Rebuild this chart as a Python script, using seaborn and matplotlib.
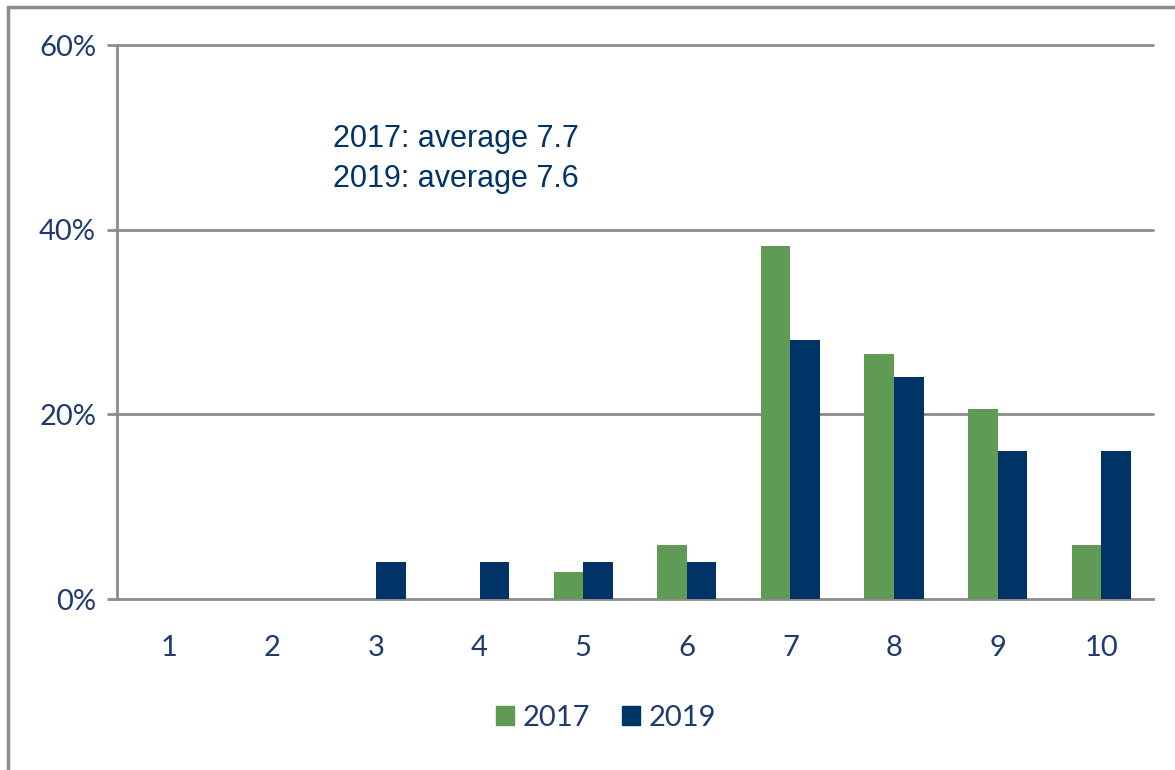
import matplotlib
matplotlib.use("Agg")
import matplotlib.pyplot as plt
import matplotlib.patches as mpatches
from matplotlib.lines import Line2D
import numpy as np
import pandas as pd
import seaborn as sns

# Ratings 1-10, share of respondents per year
scores = ["1", "2", "3", "4", "5", "6", "7", "8", "9", "10"]
share_2017 = [0, 0, 0, 0, 2.9, 5.9, 38.2, 26.5, 20.6, 5.9]
share_2019 = [0, 0, 4.0, 4.0, 4.0, 4.0, 28.0, 24.0, 16.0, 16.0]
years = ["2017", "2019"]
y_ticks = [0, 20, 40, 60]
note_lines = ["2017: average 7.7", "2019: average 7.6"]

GREEN = "#5F9B55"
NAVY = "#003366"
LABEL = "#1F3A6E"
GRAY = "#8C8C8C"

df = pd.DataFrame({
    "score": scores * 2,
    "share": share_2017 + share_2019,
    "year": [years[0]] * len(scores) + [years[1]] * len(scores),
})

sns.set_theme(style="white")
plt.rcParams["font.family"] = ["Lato", "DejaVu Sans"]

fig = plt.figure(figsize=(11.75, 7.7), dpi=100)
ax = fig.add_axes([117 / 1175, 1 - 599 / 770, (1153 - 117) / 1175, (599 - 45) / 770])

sns.barplot(data=df, x="score", y="share", hue="year", order=scores,
            palette=[GREEN, NAVY], saturation=1, width=0.57, linewidth=0, ax=ax,
            legend=False, zorder=3)

ax.set_xlim(-0.5, len(scores) - 0.5)
ax.set_ylim(0, 60)
ax.set_yticks(y_ticks)
ax.set_yticklabels([f"{v}%" for v in y_ticks])
ax.set_xlabel("")
ax.set_ylabel("")

# grid lines at 20/40/60
for v in y_ticks[1:]:
    ax.axhline(v, color=GRAY, lw=2, zorder=1, clip_on=False)

for side in ["top", "right"]:
    ax.spines[side].set_visible(False)
for side in ["left", "bottom"]:
    ax.spines[side].set_color(GRAY)
    ax.spines[side].set_linewidth(2)

# tick marks at category boundaries
ax.set_xticks(np.arange(-0.5, len(scores), 1.0), minor=True)
ax.tick_params(axis="x", which="major", length=0, pad=26, labelsize=21, labelcolor=LABEL)
ax.tick_params(axis="x", which="minor", length=7, width=2, color=GRAY, direction="out")
ax.tick_params(axis="y", which="major", left=True, length=7, width=2, color=GRAY,
               pad=8, labelsize=21, labelcolor=LABEL)

fig.text(333 / 1175, 1 - 124 / 770, "\n".join(note_lines), fontsize=22,
         family=["Liberation Sans", "DejaVu Sans"], color=NAVY,
         va="top", ha="left", linespacing=1.45)

handles = [mpatches.Patch(color=GREEN, label=years[0]),
           mpatches.Patch(color=NAVY, label=years[1])]
fig.legend(handles=handles, loc="center", bbox_to_anchor=(606 / 1175, 1 - 718 / 770),
           ncol=2, frameon=False, fontsize=21, handlelength=0.6, handleheight=0.6,
           handletextpad=0.3, columnspacing=1.1, labelcolor=LABEL)

# outer frame (left and top edges visible)
fig.add_artist(Line2D([8 / 1175, 8 / 1175], [0, 1 - 7 / 770], color=GRAY, lw=2.5,
                      transform=fig.transFigure))
fig.add_artist(Line2D([8 / 1175, 1], [1 - 7 / 770, 1 - 7 / 770], color=GRAY, lw=2.5,
                      transform=fig.transFigure))

fig.savefig("out.png", dpi=100)
